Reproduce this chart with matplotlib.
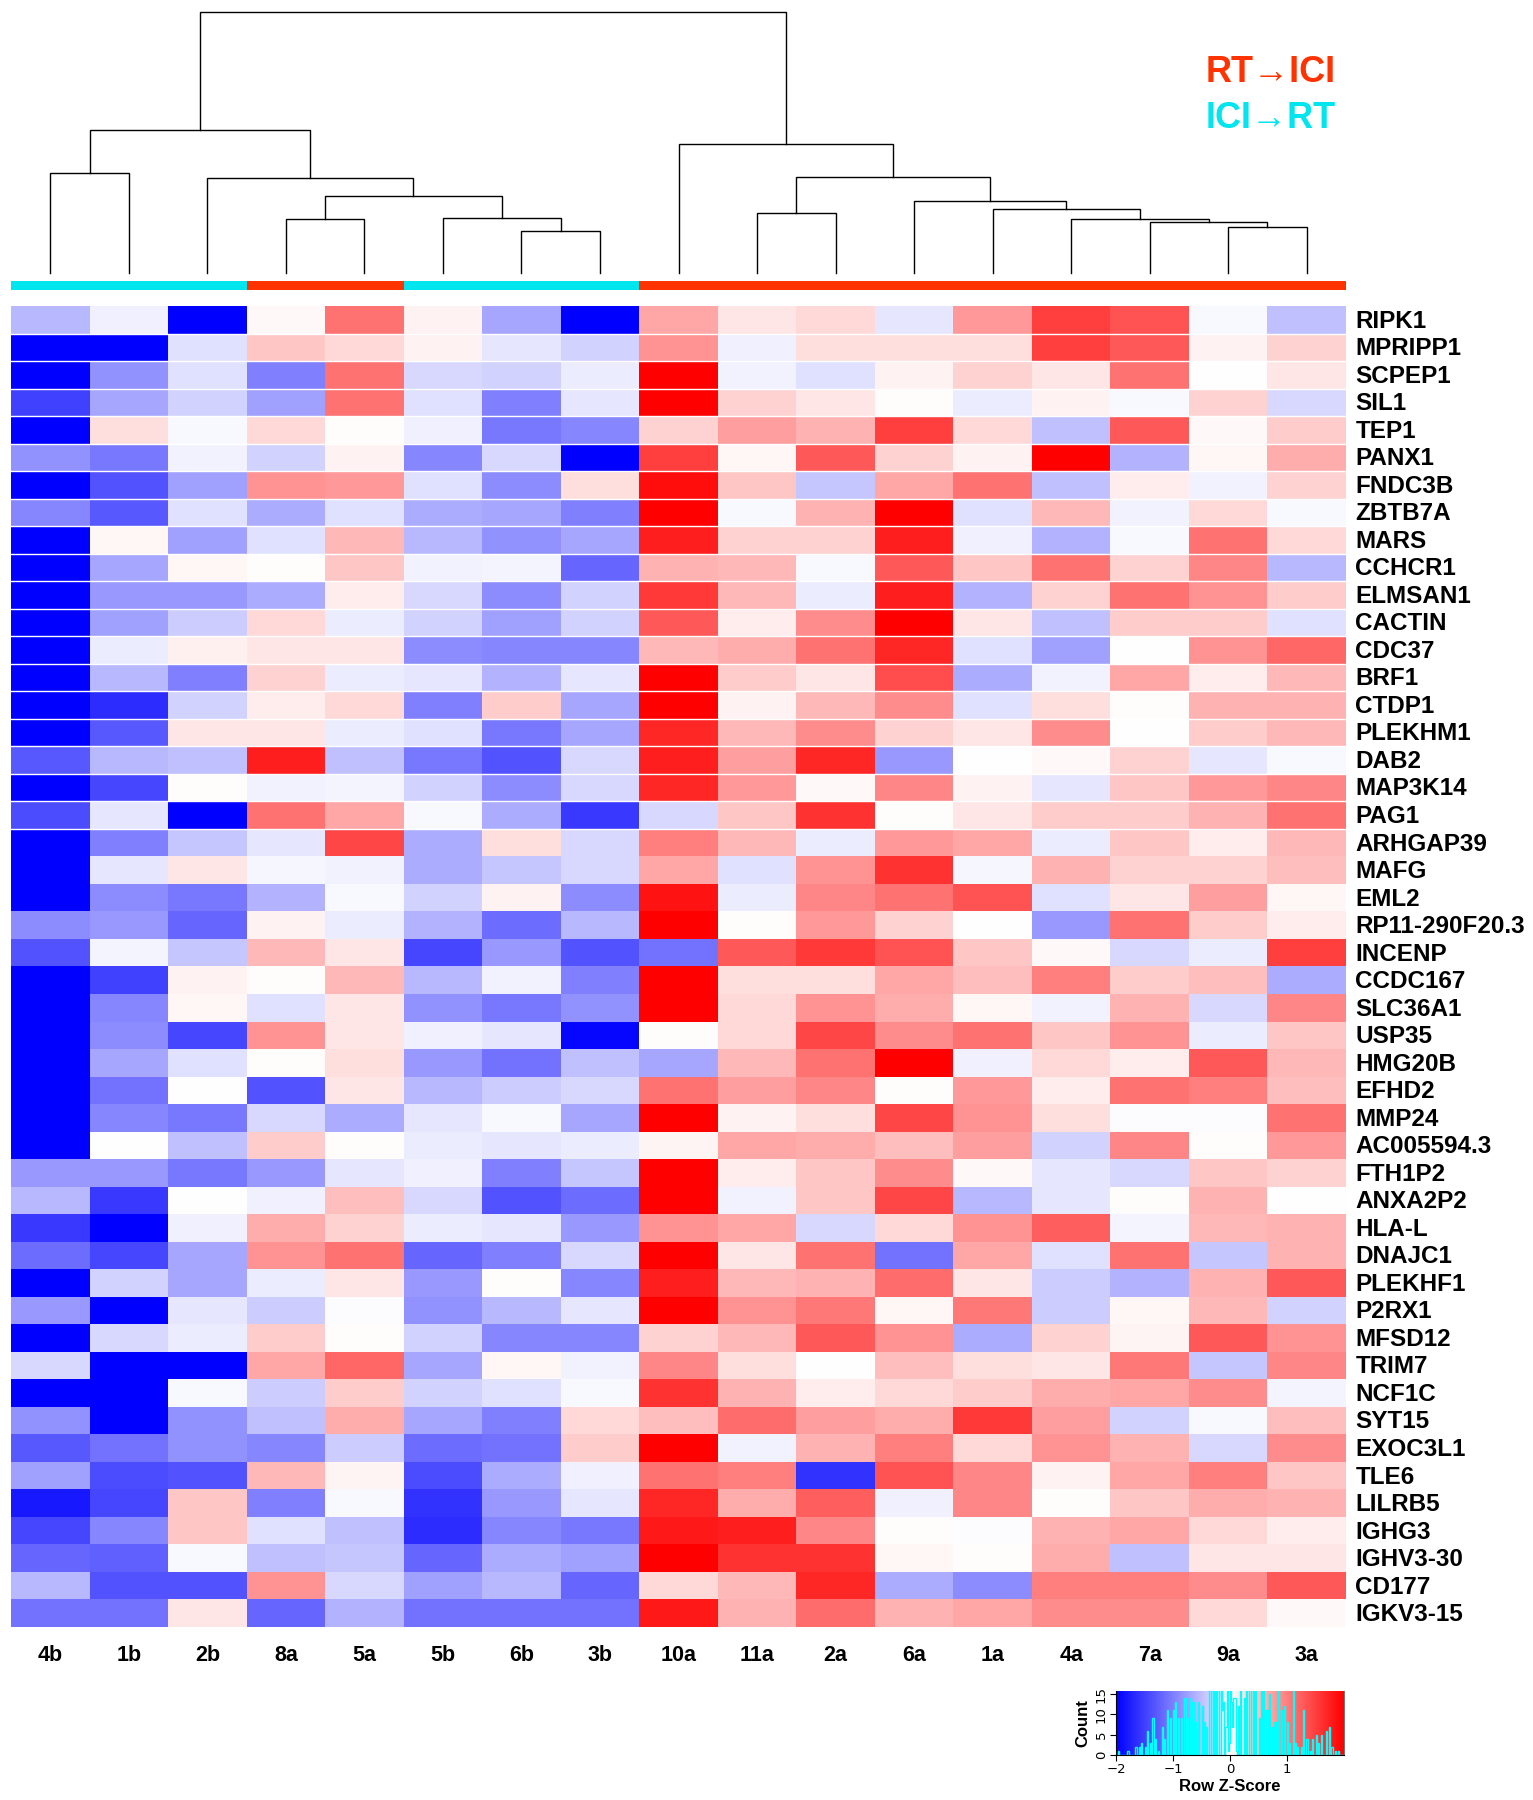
import numpy as np
import matplotlib
matplotlib.use("Agg")
import matplotlib.pyplot as plt
from matplotlib import font_manager
from matplotlib.colors import LinearSegmentedColormap

# ---------------- data ----------------
samples = ["4b", "1b", "2b", "8a", "5a", "5b", "6b", "3b", "10a",
           "11a", "2a", "6a", "1a", "4a", "7a", "9a", "3a"]
groups = ["ICI", "ICI", "ICI", "RT", "RT", "ICI", "ICI", "ICI", "RT",
          "RT", "RT", "RT", "RT", "RT", "RT", "RT", "RT"]
genes = ["RIPK1", "MPRIPP1", "SCPEP1", "SIL1", "TEP1", "PANX1", "FNDC3B",
         "ZBTB7A", "MARS", "CCHCR1", "ELMSAN1", "CACTIN", "CDC37", "BRF1",
         "CTDP1", "PLEKHM1", "DAB2", "MAP3K14", "PAG1", "ARHGAP39", "MAFG",
         "EML2", "RP11-290F20.3", "INCENP", "CCDC167", "SLC36A1", "USP35",
         "HMG20B", "EFHD2", "MMP24", "AC005594.3", "FTH1P2", "ANXA2P2",
         "HLA-L", "DNAJC1", "PLEKHF1", "P2RX1", "MFSD12", "TRIM7", "NCF1C",
         "SYT15", "EXOC3L1", "TLE6", "LILRB5", "IGHG3", "IGHV3-30", "CD177",
         "IGKV3-15"]

# Row z-scores (rows = genes, columns = samples in the order above)
zscores = [
    [-0.55, -0.12, -2.5, 0.05, 1.1, 0.1, -0.7, -2.5, 0.7, 0.2, 0.3, -0.2, 0.8, 1.5, 1.35, -0.05, -0.5],
    [-2.5, -2.5, -0.25, 0.45, 0.3, 0.1, -0.2, -0.35, 0.85, -0.12, 0.25, 0.25, 0.25, 1.5, 1.3, 0.1, 0.35],
    [-2.5, -0.85, -0.25, -1.0, 1.1, -0.3, -0.35, -0.15, 2.3, -0.1, -0.25, 0.1, 0.35, 0.2, 1.1, 0.0, 0.2],
    [-1.5, -0.7, -0.35, -0.75, 1.1, -0.25, -1.0, -0.2, 2.3, 0.35, 0.2, 0.02, -0.15, 0.1, -0.05, 0.35, -0.3],
    [-2.5, 0.25, -0.05, 0.3, 0.02, -0.12, -1.05, -0.95, 0.35, 0.75, 0.6, 1.5, 0.3, -0.5, 1.3, 0.05, 0.4],
    [-0.85, -1.05, -0.1, -0.35, 0.1, -0.95, -0.3, -2.5, 1.5, 0.07, 1.3, 0.35, 0.1, 2.3, -0.6, 0.07, 0.65],
    [-2.5, -1.35, -0.75, 0.85, 0.8, -0.25, -0.9, 0.25, 1.9, 0.45, -0.45, 0.7, 1.1, -0.5, 0.15, -0.1, 0.35],
    [-0.95, -1.3, -0.25, -0.65, -0.25, -0.65, -0.7, -1.0, 2.3, -0.05, 0.6, 2.3, -0.25, 0.55, -0.1, 0.3, -0.05],
    [-2.5, 0.07, -0.75, -0.25, 0.55, -0.55, -0.85, -0.7, 1.75, 0.35, 0.35, 1.75, -0.12, -0.6, -0.05, 1.1, 0.3],
    [-2.5, -0.7, 0.07, 0.03, 0.45, -0.1, -0.08, -1.2, 0.6, 0.55, -0.05, 1.3, 0.45, 1.1, 0.35, 0.95, -0.55],
    [-2.5, -0.8, -0.8, -0.65, 0.15, -0.3, -0.9, -0.35, 1.55, 0.55, -0.15, 1.75, -0.6, 0.35, 1.1, 0.85, 0.4],
    [-2.5, -0.75, -0.4, 0.3, -0.15, -0.35, -0.75, -0.35, 1.3, 0.15, 0.9, 2.3, 0.2, -0.5, 0.4, 0.4, -0.25],
    [-2.5, -0.15, 0.12, 0.2, 0.2, -0.9, -0.95, -0.95, 0.55, 0.65, 1.1, 1.7, -0.25, -0.75, 0.0, 0.85, 1.2],
    [-2.5, -0.55, -1.0, 0.35, -0.15, -0.2, -0.6, -0.2, 2.3, 0.4, 0.2, 1.4, -0.65, -0.1, 0.7, 0.15, 0.55],
    [-2.5, -1.65, -0.35, 0.15, 0.3, -1.0, 0.4, -0.7, 2.3, 0.1, 0.55, 0.9, -0.25, 0.25, 0.03, 0.6, 0.6],
    [-2.5, -1.3, 0.2, 0.2, -0.15, -0.25, -1.05, -0.7, 1.7, 0.55, 0.9, 0.35, 0.2, 0.9, 0.0, 0.4, 0.55],
    [-1.3, -0.55, -0.5, 1.75, -0.5, -1.05, -1.35, -0.3, 1.75, 0.75, 1.7, -0.8, 0.0, 0.05, 0.35, -0.2, -0.05],
    [-2.5, -1.45, 0.02, -0.1, -0.08, -0.35, -0.9, -0.3, 1.7, 0.8, 0.05, 0.95, 0.1, -0.2, 0.45, 0.8, 0.95],
    [-1.4, -0.2, -2.5, 1.1, 0.7, -0.05, -0.65, -1.55, -0.3, 0.45, 1.6, 0.02, 0.2, 0.4, 0.4, 0.6, 1.1],
    [-2.5, -1.0, -0.45, -0.2, 1.45, -0.65, 0.25, -0.3, 1.0, 0.55, -0.15, 0.8, 0.7, -0.15, 0.45, 0.15, 0.55],
    [-2.5, -0.2, 0.2, -0.07, -0.1, -0.65, -0.45, -0.3, 0.7, -0.25, 0.85, 1.6, -0.07, 0.6, 0.35, 0.35, 0.5],
    [-2.5, -0.9, -1.05, -0.6, -0.05, -0.35, 0.1, -0.9, 1.85, -0.15, 0.95, 1.1, 1.35, -0.25, 0.2, 0.75, 0.07],
    [-0.9, -0.8, -1.2, 0.1, -0.15, -0.6, -1.15, -0.55, 2.3, 0.03, 0.8, 0.35, 0.0, -0.8, 1.1, 0.4, 0.15],
    [-1.35, -0.08, -0.45, 0.55, 0.2, -1.45, -0.8, -1.35, -1.1, 1.3, 1.55, 1.35, 0.45, 0.05, -0.3, -0.15, 1.5],
    [-2.5, -1.5, 0.1, 0.02, 0.55, -0.55, -0.1, -1.0, 2.3, 0.25, 0.25, 0.7, 0.5, 1.0, 0.4, 0.5, -0.65],
    [-2.5, -0.95, 0.07, -0.25, 0.2, -0.85, -1.05, -0.85, 2.3, 0.3, 0.85, 0.65, 0.07, -0.1, 0.6, -0.3, 0.95],
    [-2.5, -0.9, -1.45, 0.85, 0.2, -0.12, -0.2, -1.95, 0.03, 0.3, 1.45, 0.9, 1.1, 0.45, 0.85, -0.15, 0.45],
    [-2.5, -0.7, -0.25, 0.02, 0.25, -0.8, -1.1, -0.5, -0.7, 0.55, 1.1, 2.3, -0.12, 0.3, 0.15, 1.3, 0.55],
    [-2.5, -1.1, 0.0, -1.35, 0.2, -0.55, -0.4, -0.3, 1.1, 0.75, 0.95, 0.03, 0.8, 0.15, 1.1, 1.0, 0.5],
    [-2.5, -0.95, -1.05, -0.3, -0.65, -0.2, -0.05, -0.7, 2.3, 0.1, 0.25, 1.45, 0.85, 0.25, -0.02, -0.02, 1.1],
    [-2.5, 0.0, -0.5, 0.4, 0.03, -0.15, -0.2, -0.15, 0.08, 0.7, 0.65, 0.5, 0.75, -0.35, 0.95, 0.03, 0.8],
    [-0.8, -0.8, -1.05, -0.8, -0.2, -0.12, -1.0, -0.45, 2.3, 0.15, 0.45, 0.9, 0.05, -0.2, -0.3, 0.45, 0.35],
    [-0.55, -1.55, 0.0, -0.12, 0.5, -0.3, -1.35, -1.15, 2.3, -0.1, 0.45, 1.45, -0.55, -0.2, 0.03, 0.6, 0.0],
    [-1.55, -2.5, -0.12, 0.65, 0.35, -0.15, -0.2, -0.8, 0.85, 0.7, -0.3, 0.3, 0.85, 1.25, -0.08, 0.55, 0.6],
    [-1.15, -1.45, -0.7, 0.85, 1.1, -1.2, -1.0, -0.3, 2.3, 0.2, 1.1, -1.1, 0.7, -0.25, 1.1, -0.45, 0.6],
    [-2.5, -0.35, -0.7, -0.15, 0.2, -0.8, 0.03, -0.95, 1.75, 0.55, 0.6, 1.15, 0.2, -0.4, -0.6, 0.6, 1.3],
    [-0.8, -2.5, -0.2, -0.4, -0.03, -0.85, -0.55, -0.2, 2.3, 0.85, 1.05, 0.07, 1.05, -0.4, 0.07, 0.55, -0.35],
    [-2.5, -0.3, -0.15, 0.4, 0.03, -0.35, -0.95, -0.95, 0.35, 0.55, 1.3, 0.85, -0.65, 0.35, 0.08, 1.3, 0.85],
    [-0.3, -2.5, -2.5, 0.7, 1.2, -0.7, 0.07, -0.1, 0.95, 0.25, 0.0, 0.5, 0.25, 0.2, 1.05, -0.45, 0.95],
    [-2.5, -2.5, -0.05, -0.4, 0.4, -0.35, -0.25, -0.05, 1.6, 0.6, 0.15, 0.3, 0.4, 0.65, 0.7, 0.9, -0.08],
    [-0.85, -2.5, -0.85, -0.5, 0.65, -0.7, -1.0, 0.3, 0.5, 1.15, 0.75, 0.65, 1.55, 0.75, -0.35, -0.05, 0.5],
    [-1.3, -1.1, -0.85, -0.95, -0.4, -1.15, -1.1, 0.4, 2.3, -0.1, 0.6, 1.0, 0.3, 0.85, 0.6, -0.3, 0.9],
    [-0.75, -1.4, -1.35, 0.55, 0.08, -1.4, -0.65, -0.12, 1.1, 1.0, -1.6, 1.35, 0.95, 0.1, 0.7, 1.0, 0.45],
    [-1.8, -1.45, 0.45, -1.0, -0.05, -1.6, -0.8, -0.2, 1.7, 0.65, 1.25, -0.12, 0.95, 0.03, 0.45, 0.65, 0.6],
    [-1.45, -0.95, 0.45, -0.25, -0.5, -1.65, -0.95, -1.05, 1.8, 1.75, 0.95, 0.03, -0.02, 0.6, 0.7, 0.3, 0.15],
    [-1.2, -1.25, -0.05, -0.5, -0.45, -1.2, -0.65, -0.75, 2.3, 1.6, 1.6, 0.07, 0.03, 0.65, -0.5, 0.2, 0.2],
    [-0.55, -1.35, -1.35, 0.85, -0.3, -0.75, -0.55, -1.2, 0.3, 0.55, 1.7, -0.65, -0.9, 1.0, 1.0, 0.9, 1.3],
    [-1.1, -1.1, 0.2, -1.2, -0.6, -1.1, -1.1, -1.1, 1.8, 0.6, 1.15, 0.6, 0.7, 0.9, 0.9, 0.3, 0.05],
]

# Column dendrogram merges: (left child, right child, height)
# children: ("L", leaf position) or ("M", merge index)
merges = [
    (("L", 0), ("L", 1), 100.0),
    (("L", 3), ("L", 4), 54.0),
    (("L", 6), ("L", 7), 42.0),
    (("L", 5), ("M", 2), 55.0),
    (("M", 1), ("M", 3), 76.7),
    (("L", 2), ("M", 4), 95.0),
    (("M", 0), ("M", 5), 142.7),
    (("L", 9), ("L", 10), 59.4),
    (("L", 15), ("L", 16), 45.7),
    (("L", 14), ("M", 8), 51.0),
    (("L", 13), ("M", 9), 53.7),
    (("L", 12), ("M", 10), 63.4),
    (("L", 11), ("M", 11), 71.4),
    (("M", 7), ("M", 12), 96.0),
    (("L", 8), ("M", 13), 128.7),
    (("M", 6), ("M", 14), 261.0),
]

group_colors = {"RT": "#FF3300", "ICI": "#00E5EE"}
legend_labels = ["RT\u2192ICI", "ICI\u2192RT"]
legend_keys = ["RT", "ICI"]
key_xticks = [-2, -1, 0, 1]
key_yticks = [0, 5, 10, 15]

# ---------------- fonts ----------------
installed = {f.name for f in font_manager.fontManager.ttflist}
NARROW = "Liberation Sans Narrow" in installed
FONT = ["Liberation Sans", "DejaVu Sans"]
LABFONT = (["Liberation Sans Narrow", "Liberation Sans", "DejaVu Sans"]
           if NARROW else FONT)
row_fs = 20.5 if NARROW else 17.5
col_fs = 17.5 if NARROW else 15.5
leg_fs = 30 if NARROW else 26

# ---------------- figure ----------------
W, H = 1533, 1800
fig = plt.figure(figsize=(W / 100, H / 100), dpi=100)


def fax(x0, y0, x1, y1):
    return fig.add_axes([x0 / W, 1 - y1 / H, (x1 - x0) / W, (y1 - y0) / H])


Z = np.array(zscores)
nrow, ncol = Z.shape
cmap = LinearSegmentedColormap.from_list("bluered", ["#0000FF", "#FFFFFF", "#FF0000"], N=256)

# heatmap
hx0, hx1, hy0, hy1 = 11, 1346, 306, 1627
ax = fax(hx0, hy0, hx1, hy1)
ax.pcolormesh(np.arange(ncol + 1), np.arange(nrow + 1), Z, cmap=cmap, vmin=-2, vmax=2)
ax.set_xlim(0, ncol)
ax.set_ylim(nrow, 0)
ax.axis("off")
for i in range(1, 20):
    ax.axhline(i, color="white", lw=1.0)
for j, s in enumerate(samples):
    ax.text(j + 0.5, nrow + 1.02, s, ha="center", va="center", fontsize=col_fs,
            fontweight="bold", family=LABFONT, clip_on=False)
for i, g in enumerate(genes):
    ax.text(ncol + 0.12, i + 0.55, g, ha="left", va="center", fontsize=row_fs,
            fontweight="bold", family=LABFONT, clip_on=False)

# column side colours
axc = fax(hx0, 281, hx1, 290)
for j, gname in enumerate(groups):
    axc.bar(j + 0.5, 1, width=1.0, color=group_colors[gname], linewidth=0)
axc.set_xlim(0, ncol)
axc.set_ylim(0, 1)
axc.axis("off")

# dendrogram
axd = fax(hx0, 11.7, hx1, 272.7)
top_h = merges[-1][2]
axd.set_xlim(0, ncol)
axd.set_ylim(0, top_h)
axd.axis("off")
node_x = []


def child_pos(c):
    kind, idx = c
    if kind == "L":
        return idx + 0.5, 0.0
    return node_x[idx], merges[idx][2]


for left, right, h in merges:
    xl, hl = child_pos(left)
    xr, hr = child_pos(right)
    axd.plot([xl, xl, xr, xr], [hl, h, h, hr], color="black", lw=1.0,
             solid_joinstyle="miter", clip_on=False)
    node_x.append((xl + xr) / 2)

# legend text
for k, (lab, key) in enumerate(zip(legend_labels, legend_keys)):
    fig.text(1206 / W, 1 - (72 + 46.5 * k) / H, lab, ha="left", va="center",
             fontsize=leg_fs, fontweight="bold", color=group_colors[key], family=LABFONT)

# colour key with histogram
axk = fax(1116, 1691, 1344, 1755)
edges = np.linspace(-2, 2, 201)
vals = Z.ravel()
counts, _ = np.histogram(vals[(vals >= -2) & (vals <= 2)], bins=edges)
ytop = 15.74
axk.imshow(np.linspace(-2, 2, 256)[None, :], extent=[-2, 2, 0, ytop], aspect="auto",
           cmap=cmap, vmin=-2, vmax=2, interpolation="bilinear")
axk.stairs(counts, edges, color="cyan", lw=1.0)
axk.set_xlim(-2, 2)
axk.set_ylim(0, ytop)
axk.set_xticks(key_xticks)
axk.set_yticks(key_yticks)
axk.tick_params(labelsize=9.5, length=4, width=0.8, pad=2)
for t in axk.get_yticklabels():
    t.set_rotation(90)
    t.set_va("center")
axk.spines["top"].set_visible(False)
axk.spines["right"].set_color("#777777")
axk.set_xlabel("Row Z-Score", fontsize=12, fontweight="bold", family=FONT, labelpad=2)
axk.set_ylabel("Count", fontsize=12, fontweight="bold", family=FONT, labelpad=3)

fig.savefig("out.png", dpi=100)
